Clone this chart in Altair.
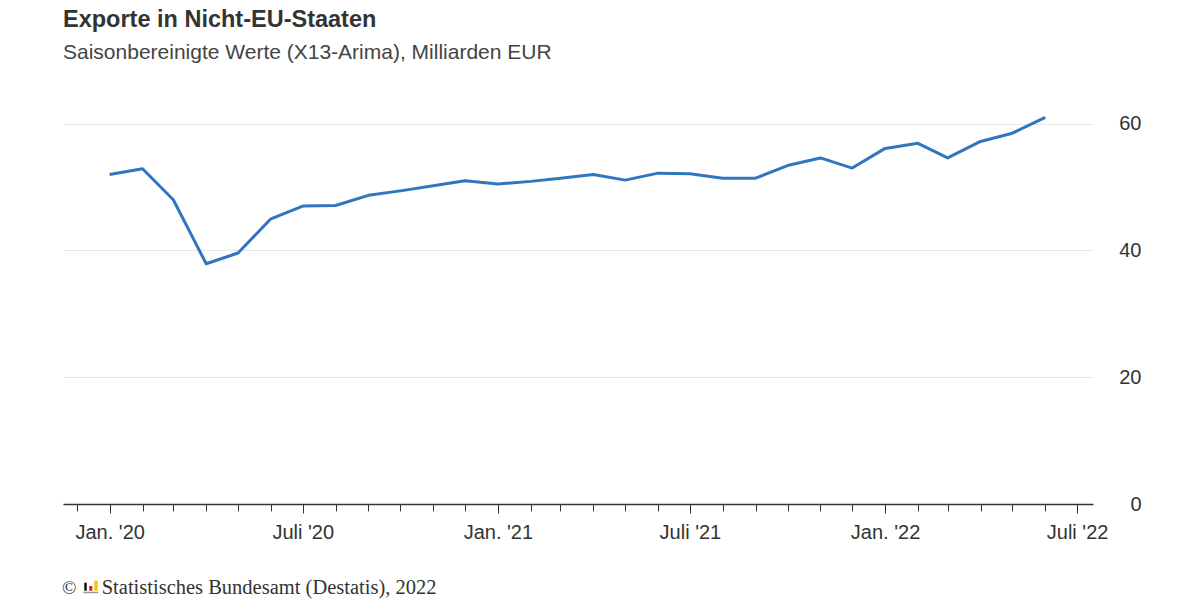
import pandas as pd
import altair as alt

# Monatswerte Jan. 2020 - Juni 2022, Milliarden EUR (saisonbereinigt)
monate = pd.date_range("2020-01-01", periods=30, freq="MS")
exporte = [52.0, 52.9, 48.0, 37.9, 39.6, 45.0, 47.0, 47.1, 48.7, 49.4,
           50.2, 51.0, 50.5, 50.9, 51.4, 52.0, 51.1, 52.2, 52.1, 51.4,
           51.4, 53.4, 54.6, 53.0, 56.1, 56.9, 54.6, 57.2, 58.5, 61.0]
y_ticks = [0, 20, 40, 60]

titel = "Exporte in Nicht-EU-Staaten"
untertitel = "Saisonbereinigte Werte (X13-Arima), Milliarden EUR"
quelle = "Statistisches Bundesamt (Destatis), 2022"

df = pd.DataFrame({"monat": monate, "wert": exporte})

FONT = "Liberation Sans"
W, H = 1030, 412

x_scale = alt.Scale(domain=[alt.DateTime(year=2019, month=11, date=18),
                            alt.DateTime(year=2022, month=7, date=16)], nice=False)
y_scale = alt.Scale(domain=[0, 65], nice=False, zero=True)

label_expr = ("month(datum.value) == 0 ? \"Jan. '\" + timeFormat(datum.value, '%y') : "
              "month(datum.value) == 6 ? \"Juli '\" + timeFormat(datum.value, '%y') : ''")

linie = alt.Chart(df).mark_line(color="#2f76bf", strokeWidth=3, strokeJoin="round").encode(
    x=alt.X("monat:T", scale=x_scale, title=None,
            axis=alt.Axis(tickCount=alt.TimeIntervalStep(interval="month", step=1),
                          labelExpr=label_expr, labelOverlap=False, labelFlush=False,
                          labelBound=False, grid=False,
                          domainColor="#333", domainWidth=1.5,
                          tickColor="#333", tickWidth=1,
                          tickSize={"condition": {"test": "month(datum.value) % 6 == 0", "value": 9}, "value": 7},
                          labelPadding=9, labelFont=FONT, labelFontSize=20,
                          labelColor="#333")),
    y=alt.Y("wert:Q", scale=y_scale, title=None,
            axis=alt.Axis(orient="right", values=y_ticks, domain=False, ticks=False,
                          tickSize=0, grid=True, gridColor="#e6e6e6", gridWidth=1,
                          labelAlign="right", labelBaseline="middle", labelPadding=48,
                          labelFont=FONT, labelFontSize=20, labelColor="#333")),
)

# Quellenangabe unten links
fuss = pd.DataFrame({"t": [quelle]})
quelle_text = alt.Chart(fuss).mark_text(
    font="Liberation Serif", fontSize=20.5, color="#333", align="left", baseline="alphabetic"
).encode(text="t:N", x=alt.value(38.7), y=alt.value(502))
copy_text = alt.Chart(fuss).mark_text(
    font="Liberation Serif", fontSize=19, color="#333", align="left", baseline="alphabetic", text="©"
).encode(x=alt.value(-1), y=alt.value(502))

# kleines Destatis-Logo
def balken(x, y1, y2, farbe, breite):
    return alt.Chart(fuss).mark_rule(color=farbe, strokeWidth=breite).encode(
        x=alt.value(x), y=alt.value(y1), y2=alt.value(y2))

logo = (balken(22.5, 490.7, 498.7, "#111", 2.5)
        + balken(27.8, 494, 498.7, "#d71920", 3)
        + balken(33, 488.7, 498.7, "#f5c400", 3.3)
        + alt.Chart(fuss).mark_rule(color="#999", strokeWidth=1.5).encode(
            x=alt.value(20.3), x2=alt.value(35.3), y=alt.value(500.5)))

chart = alt.layer(linie, quelle_text, copy_text, logo).properties(
    width=W, height=H,
    title=alt.TitleParams(text=titel, subtitle=untertitel, anchor="start", frame="group",
                          font=FONT, fontSize=23.5, fontWeight="bold", color="#333",
                          subtitleFont=FONT, subtitleFontSize=21, subtitleColor="#444",
                          subtitlePadding=11, offset=29),
    padding={"left": 55, "top": 84, "right": 99, "bottom": 100},
    autosize=alt.AutoSizeParams(type="none"),
).configure_view(stroke=None)

chart.save("out.html", embed_options={"renderer": "svg", "actions": False})
